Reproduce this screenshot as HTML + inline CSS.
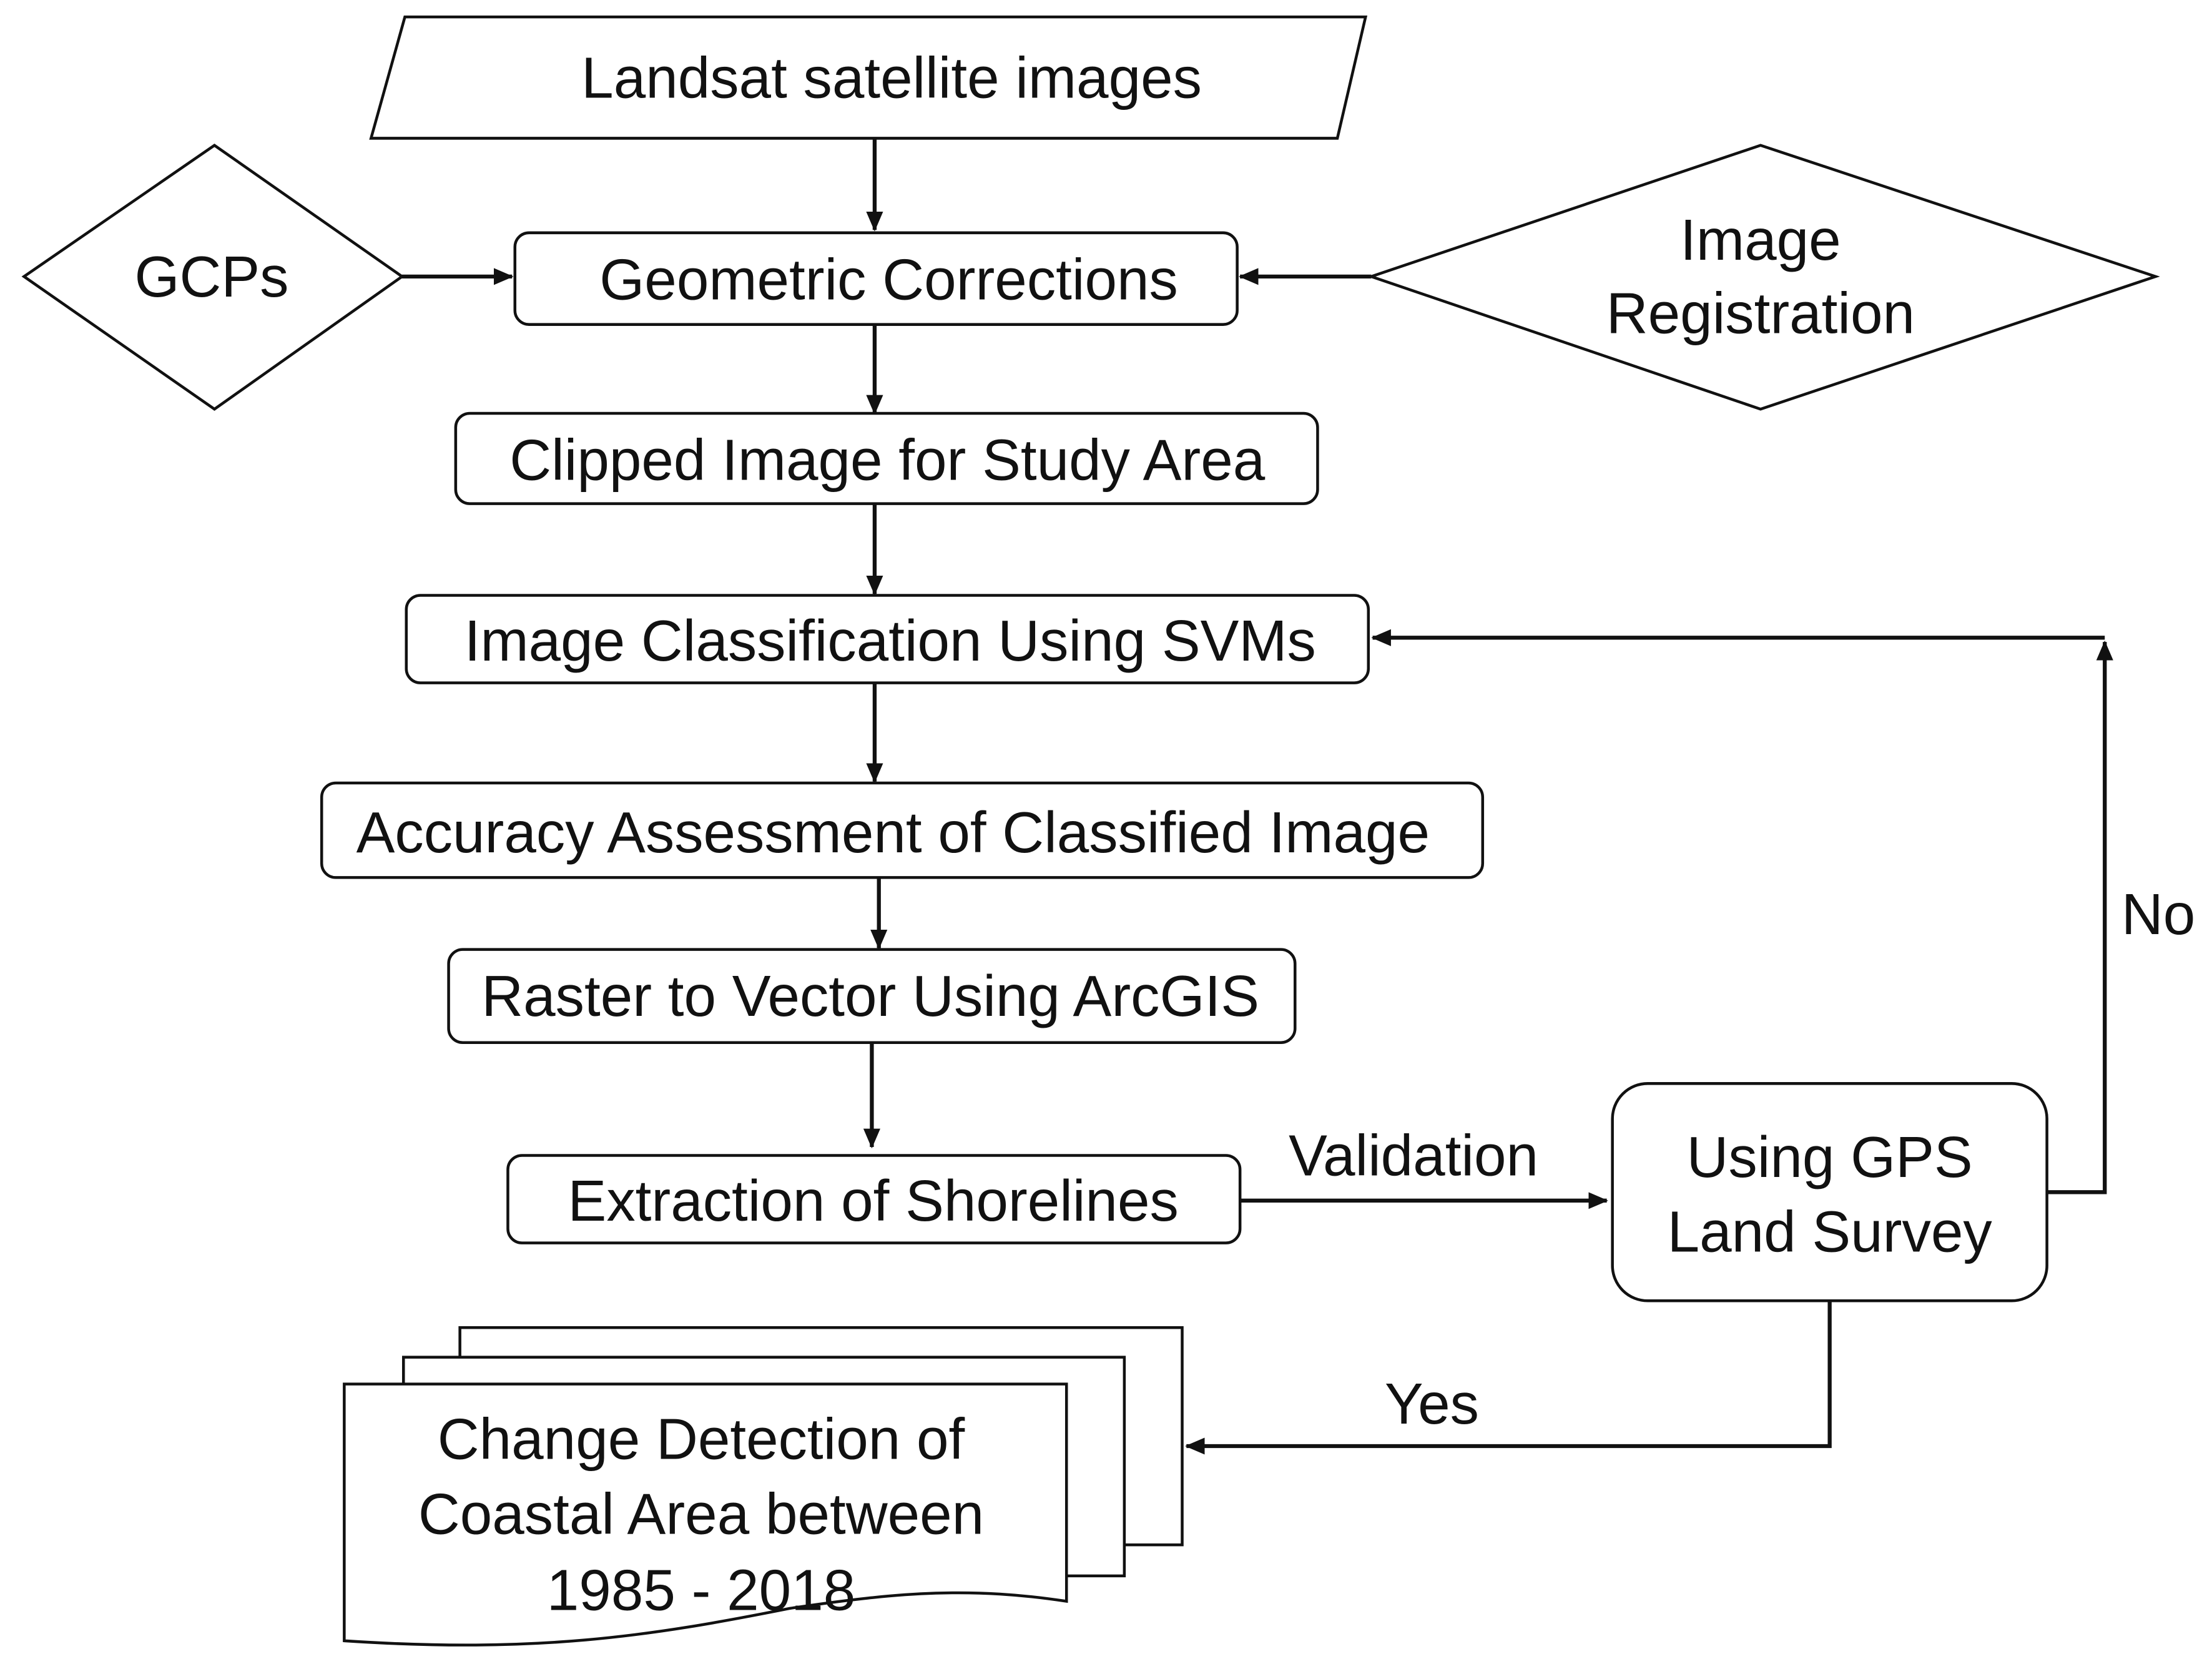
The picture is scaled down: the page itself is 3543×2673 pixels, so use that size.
<!DOCTYPE html>
<html><head><meta charset="utf-8"><style>
html,body{margin:0;padding:0;background:#fff;}
svg{display:block;}
text{font-family:"Liberation Sans",sans-serif;font-size:41px;fill:#111;text-anchor:middle;dominant-baseline:central;}
.s{fill:#fff;stroke:#111;stroke-width:2;}
.l{fill:none;stroke:#111;stroke-width:2.8;}
</style></head><body>
<svg width="3543" height="2673" viewBox="0 0 1568 1183" xmlns="http://www.w3.org/2000/svg">
<defs>
<marker id="b" markerWidth="14" markerHeight="12" refX="13" refY="6" orient="auto" markerUnits="userSpaceOnUse"><path d="M0,0 L14,6 L0,12 Z" fill="#111"/></marker></defs>

<polygon class="s" points="287,12 968,12 948,98 263,98"/>
<text x="632" y="55">Landsat satellite images</text>
<line class="l" x1="620" y1="98" x2="620" y2="163" marker-end="url(#b)"/>

<polygon class="s" points="17,196 152,103 285,196 152,290"/>
<text x="150" y="196">GCPs</text>
<line class="l" x1="285" y1="196" x2="363" y2="196" marker-end="url(#b)"/>

<polygon class="s" points="972,196 1248,103 1528,196 1248,290"/>
<text x="1248" y="170">Image</text>
<text x="1248" y="222">Registration</text>
<line class="l" x1="972" y1="196" x2="879" y2="196" marker-end="url(#b)"/>

<rect class="s" x="365" y="165" width="512" height="65" rx="10"/>
<text x="630" y="198">Geometric Corrections</text>
<line class="l" x1="620" y1="230" x2="620" y2="293" marker-end="url(#b)"/>

<rect class="s" x="323" y="293" width="611" height="64" rx="10"/>
<text x="629" y="326">Clipped Image for Study Area</text>
<line class="l" x1="620" y1="357" x2="620" y2="421" marker-end="url(#b)"/>

<rect class="s" x="288" y="422" width="682" height="62" rx="10"/>
<text x="631" y="454">Image Classification Using SVMs</text>
<line class="l" x1="620" y1="484" x2="620" y2="554" marker-end="url(#b)"/>

<rect class="s" x="228" y="555" width="823" height="67" rx="10"/>
<text x="633" y="590">Accuracy Assessment of Classified Image</text>
<line class="l" x1="623" y1="622" x2="623" y2="672" marker-end="url(#b)"/>

<rect class="s" x="318" y="673" width="600" height="66" rx="10"/>
<text x="617" y="706">Raster to Vector Using ArcGIS</text>
<line class="l" x1="618" y1="739" x2="618" y2="813" marker-end="url(#b)"/>

<rect class="s" x="360" y="819" width="519" height="62" rx="10"/>
<text x="619" y="851">Extraction of Shorelines</text>
<line class="l" x1="879" y1="851" x2="1139" y2="851" marker-end="url(#b)"/>
<text x="1002" y="819">Validation</text>

<rect class="s" x="1143" y="768" width="308" height="154" rx="25"/>
<text x="1297" y="820">Using  GPS</text>
<text x="1297" y="873">Land Survey</text>

<polyline class="l" points="1451,845 1492,845 1492,455" marker-end="url(#b)"/>
<line class="l" x1="1492" y1="452" x2="973" y2="452" marker-end="url(#b)"/>
<text x="1530" y="648">No</text>

<polyline class="l" points="1297,922 1297,1025 841,1025" marker-end="url(#b)"/>
<text x="1015" y="995">Yes</text>

<rect class="s" x="326" y="941" width="512" height="154"/>
<rect class="s" x="286" y="962" width="511" height="155"/>
<path class="s" d="M244,981 L756,981 L756,1135 C690,1125 640,1128 560,1140 C460,1160 380,1172 244,1163 Z"/>
<text x="497" y="1020">Change Detection of</text>
<text x="497" y="1073">Coastal Area between</text>
<text x="497" y="1127">1985 - 2018</text>
</svg>
</body></html>
